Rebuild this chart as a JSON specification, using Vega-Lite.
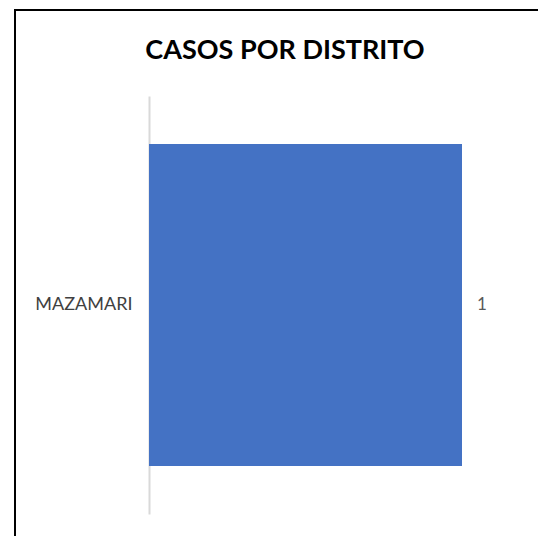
{
  "$schema": "https://vega.github.io/schema/vega-lite/v6.json",
  "autosize": {"type": "none"},
  "padding": {"left": 15, "top": 10, "right": 0, "bottom": 0},
  "width": 540,
  "height": 540,
  "background": "white",
  "config": {
    "view": {"stroke": "black", "strokeWidth": 2},
    "font": "Lato"
  },
  "title": {
    "text": "CASOS POR DISTRITO",
    "font": "Lato",
    "fontSize": 27,
    "fontWeight": "bold",
    "color": "#000000",
    "anchor": "middle",
    "offset": -55
  },
  "data": {"values": [{"distrito": "MAZAMARI", "casos": 1}]},
  "encoding": {
    "y": {
      "field": "distrito",
      "type": "nominal",
      "title": null,
      "scale": {"range": [86, 504], "paddingInner": 0, "paddingOuter": 0.149},
      "axis": {
        "offset": -134,
        "domainColor": "#d9d9d9",
        "domainWidth": 2,
        "ticks": false,
        "labelPadding": 17,
        "labelFont": "Lato",
        "labelFontSize": 18,
        "labelColor": "#404040"
      }
    },
    "x": {
      "field": "casos",
      "type": "quantitative",
      "title": null,
      "scale": {"domain": [0, 1], "range": [134, 447]},
      "axis": null
    }
  },
  "layer": [
    {"mark": {"type": "bar", "color": "#4472C4"}},
    {
      "mark": {"type": "text", "align": "left", "dx": 15, "fontSize": 17, "color": "#595959", "font": "Lato"},
      "encoding": {"text": {"field": "casos", "type": "quantitative"}}
    }
  ]
}
